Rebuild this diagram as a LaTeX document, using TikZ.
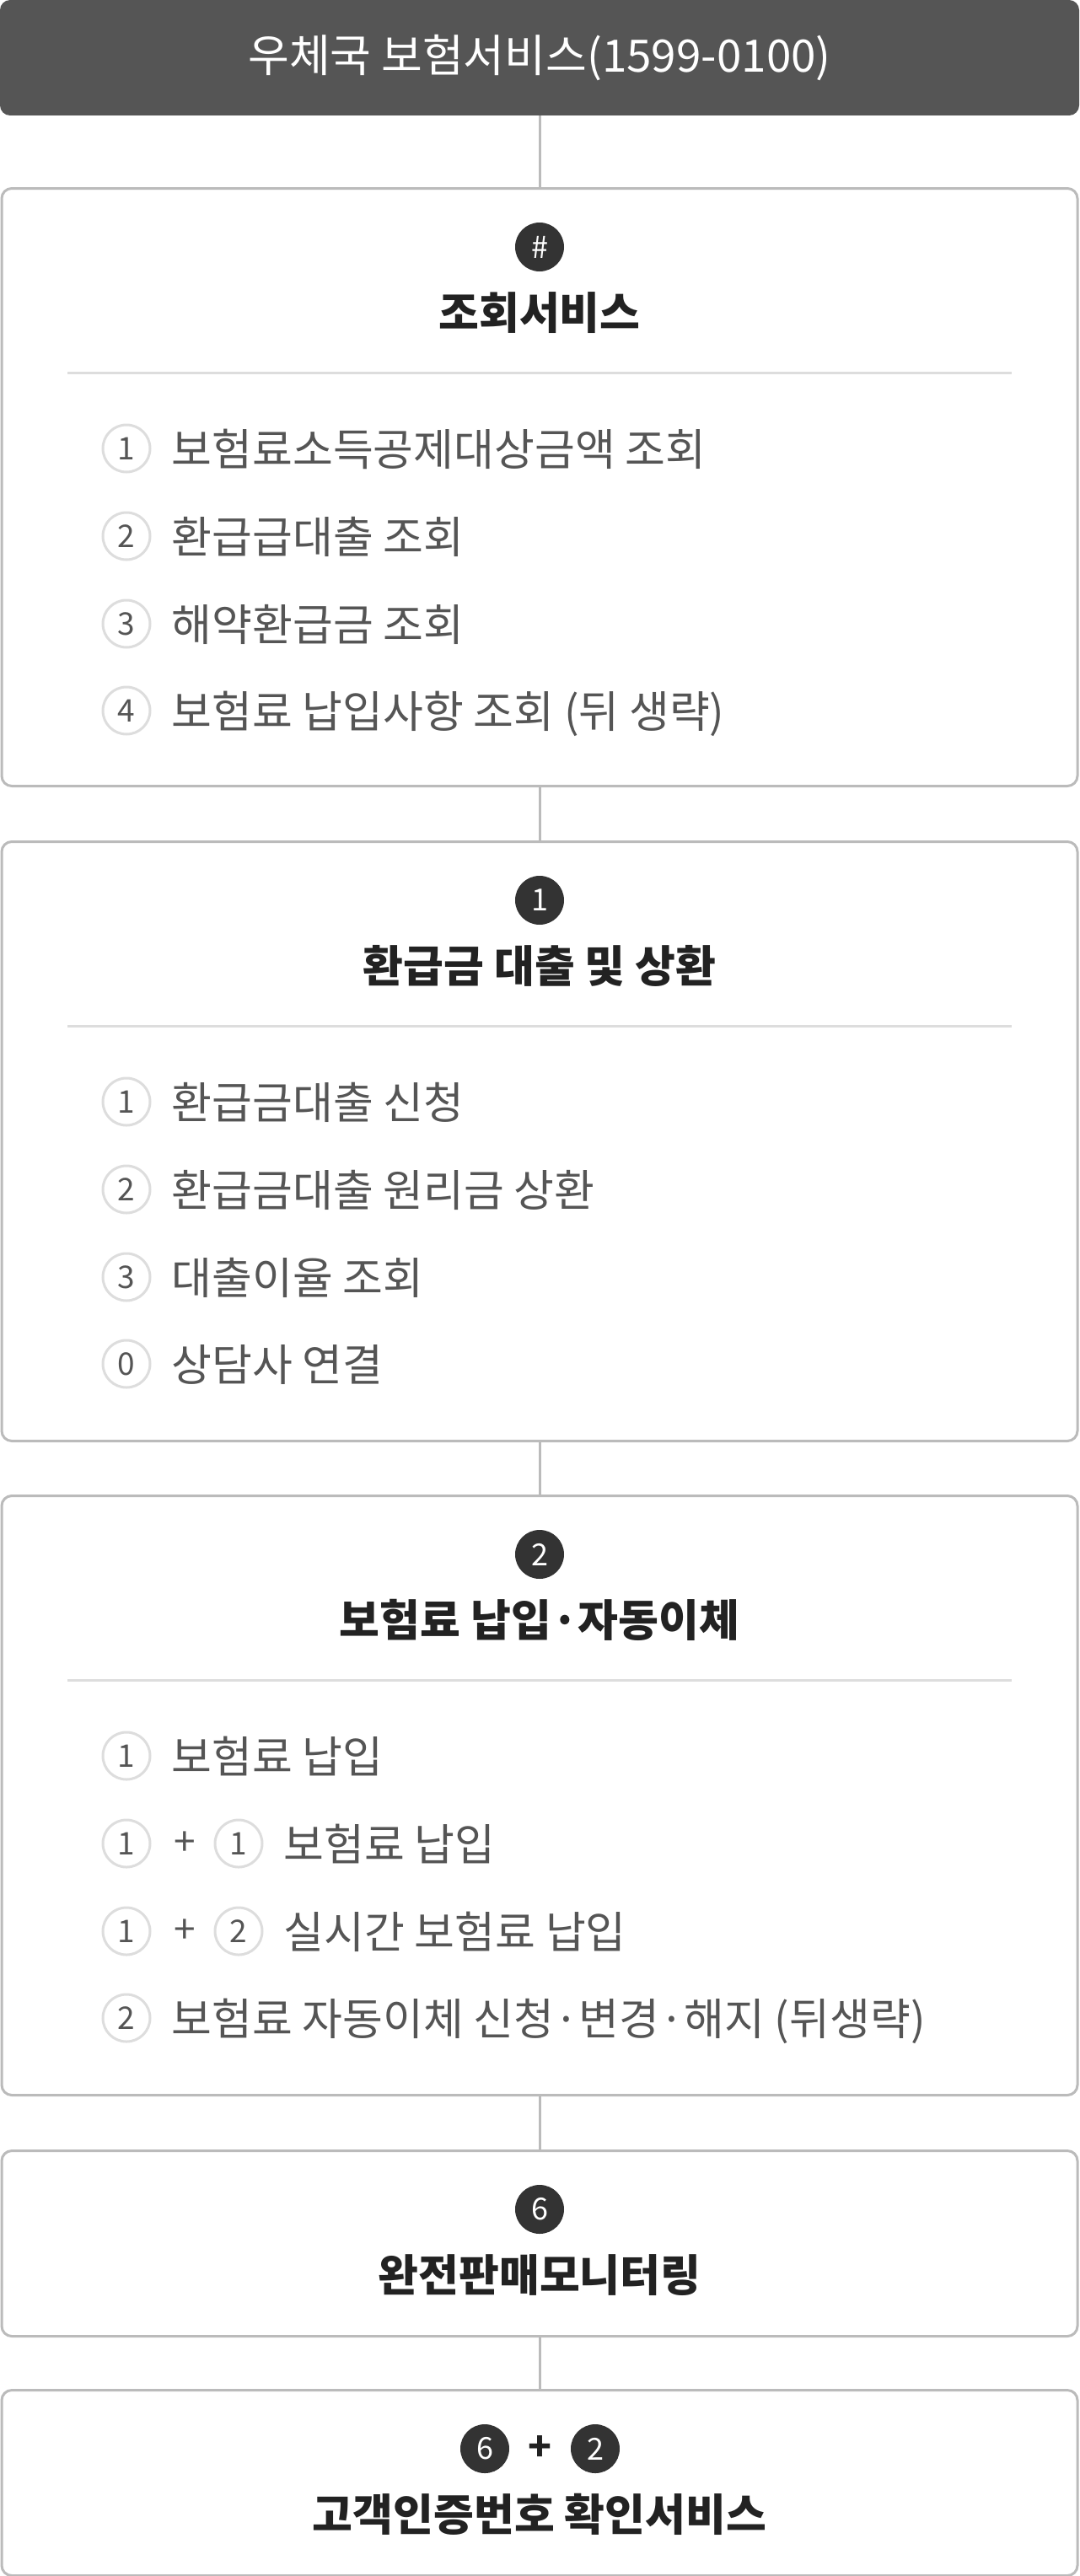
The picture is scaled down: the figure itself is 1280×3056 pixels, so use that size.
\documentclass[tikz,border=0pt]{standalone}
\usepackage{fontspec}
\setmainfont{Noto Sans CJK KR}
\usepackage{xcolor}
\usepackage{tikz}
\usetikzlibrary{positioning}
\definecolor{headgray}{HTML}{555555}
\definecolor{linegray}{HTML}{BBBBBB}
\definecolor{sepgray}{HTML}{DDDDDD}
\definecolor{txtgray}{HTML}{555555}
\definecolor{darkdot}{HTML}{333333}
\definecolor{titleblack}{HTML}{222222}
\newcommand{\fsz}[1]{\fontsize{#1}{#1}\selectfont}

\begin{document}
\begin{tikzpicture}[x=1pt,y=-1pt,
	head/.style={rectangle,rounded corners=12pt,fill=headgray,minimum width=1280pt,minimum height=137pt,inner sep=0pt,text=white,font=\fsz{53pt}},
	box/.style={rectangle,rounded corners=12pt,draw=linegray,line width=3pt,fill=white,minimum width=1276pt,inner sep=0pt},
	conn/.style={draw=linegray,line width=3pt},
	sep/.style={draw=sepgray,line width=3pt},
	badge/.style={circle,fill=darkdot,minimum size=58pt,inner sep=0pt,text=white,font=\fsz{36pt}},
	ring/.style={circle,draw=sepgray,line width=3pt,minimum size=56pt,inner sep=0pt,text=txtgray,font=\fsz{37pt}},
	boxtitle/.style={inner sep=0pt,text=titleblack,font=\fsz{52pt}\bfseries,text height=44pt,text depth=4pt},
	item/.style={inner sep=0pt,anchor=west,text=txtgray,font=\fsz{52pt},text height=44pt,text depth=4pt},
	plustxt/.style={inner sep=0pt,text=txtgray,font=\fsz{46pt}}]
	\useasboundingbox (0,0) rectangle (1280,3056);
	% header
	\node[head] (head) at (640,68.5) {우체국 보험서비스(1599-0100)};
	% boxes
	\node[box,minimum height=709pt,anchor=north] (box1) at (640,222) {};
	\node[box,minimum height=711pt,anchor=north] (box2) at (640,997) {};
	\node[box,minimum height=711pt,anchor=north] (box3) at (640,1773) {};
	\node[box,minimum height=220pt,anchor=north] (box4) at (640,2550) {};
	\node[box,minimum height=220pt,anchor=north] (box5) at (640,2834) {};
	% connectors between boxes
	\draw[conn] (head.south) -- (box1.north);
	\draw[conn] (box1.south) -- (box2.north);
	\draw[conn] (box2.south) -- (box3.north);
	\draw[conn] (box3.south) -- (box4.north);
	\draw[conn] (box4.south) -- (box5.north);
	% box 1: lookup services
	\begin{scope}[shift={(0,222)}]
	\node[badge] (b1) at (640,71) {\#};
	\node[boxtitle] (t1) at (640,148) {조회서비스};
	\draw[sep] (80,220) -- (1200,220);
	\node[ring] (n11) at (150,310) {1};
	\node[item,right=24pt of n11] (i11) {보험료소득공제대상금액 조회};
	\node[ring] (n12) at (150,414) {2};
	\node[item,right=24pt of n12] (i12) {환급급대출 조회};
	\node[ring] (n13) at (150,518) {3};
	\node[item,right=24pt of n13] (i13) {해약환급금 조회};
	\node[ring] (n14) at (150,621) {4};
	\node[item,right=24pt of n14] (i14) {보험료 납입사항 조회 (뒤 생략)};
	\end{scope}
	% box 2: loans
	\begin{scope}[shift={(0,997)}]
	\node[badge] (b2) at (640,71) {1};
	\node[boxtitle] (t2) at (640,148) {환급금 대출 및 상환};
	\draw[sep] (80,220) -- (1200,220);
	\node[ring] (n21) at (150,310) {1};
	\node[item,right=24pt of n21] (i21) {환급금대출 신청};
	\node[ring] (n22) at (150,414) {2};
	\node[item,right=24pt of n22] (i22) {환급금대출 원리금 상환};
	\node[ring] (n23) at (150,518) {3};
	\node[item,right=24pt of n23] (i23) {대출이율 조회};
	\node[ring] (n24) at (150,621) {0};
	\node[item,right=24pt of n24] (i24) {상담사 연결};
	\end{scope}
	% box 3: payment
	\begin{scope}[shift={(0,1773)}]
	\node[badge] (b3) at (640,71) {2};
	\node[boxtitle] (t3) at (640,148) {보험료 납입·자동이체};
	\draw[sep] (80,220) -- (1200,220);
	\node[ring] (n31) at (150,310) {1};
	\node[item,right=24pt of n31] (i31) {보험료 납입};
	\node[ring] (n32a) at (150,414) {1};
	\node[plustxt] (p32) at (219,414) {+};
	\node[ring] (n32b) at (283,414) {1};
	\node[item,right=24pt of n32b] (i32) {보험료 납입};
	\node[ring] (n33a) at (150,518) {1};
	\node[plustxt] (p33) at (219,518) {+};
	\node[ring] (n33b) at (283,518) {2};
	\node[item,right=24pt of n33b] (i33) {실시간 보험료 납입};
	\node[ring] (n34) at (150,621) {2};
	\node[item,right=24pt of n34] (i34) {보험료 자동이체 신청·변경·해지 (뒤생략)};
	\end{scope}
	% box 4: monitoring
	\begin{scope}[shift={(0,2550)}]
	\node[badge] (b4) at (640,71) {6};
	\node[boxtitle] (t4) at (640,148) {완전판매모니터링};
	\end{scope}
	% box 5: customer code
	\begin{scope}[shift={(0,2834)}]
	\node[badge] (b5a) at (575,71) {6};
	\node[plustxt,text=titleblack,font=\fsz{46pt}\bfseries] (p5) at (640,71) {+};
	\node[badge] (b5b) at (706,71) {2};
	\node[boxtitle] (t5) at (640,148) {고객인증번호 확인서비스};
	\end{scope}
\end{tikzpicture}
\end{document}
